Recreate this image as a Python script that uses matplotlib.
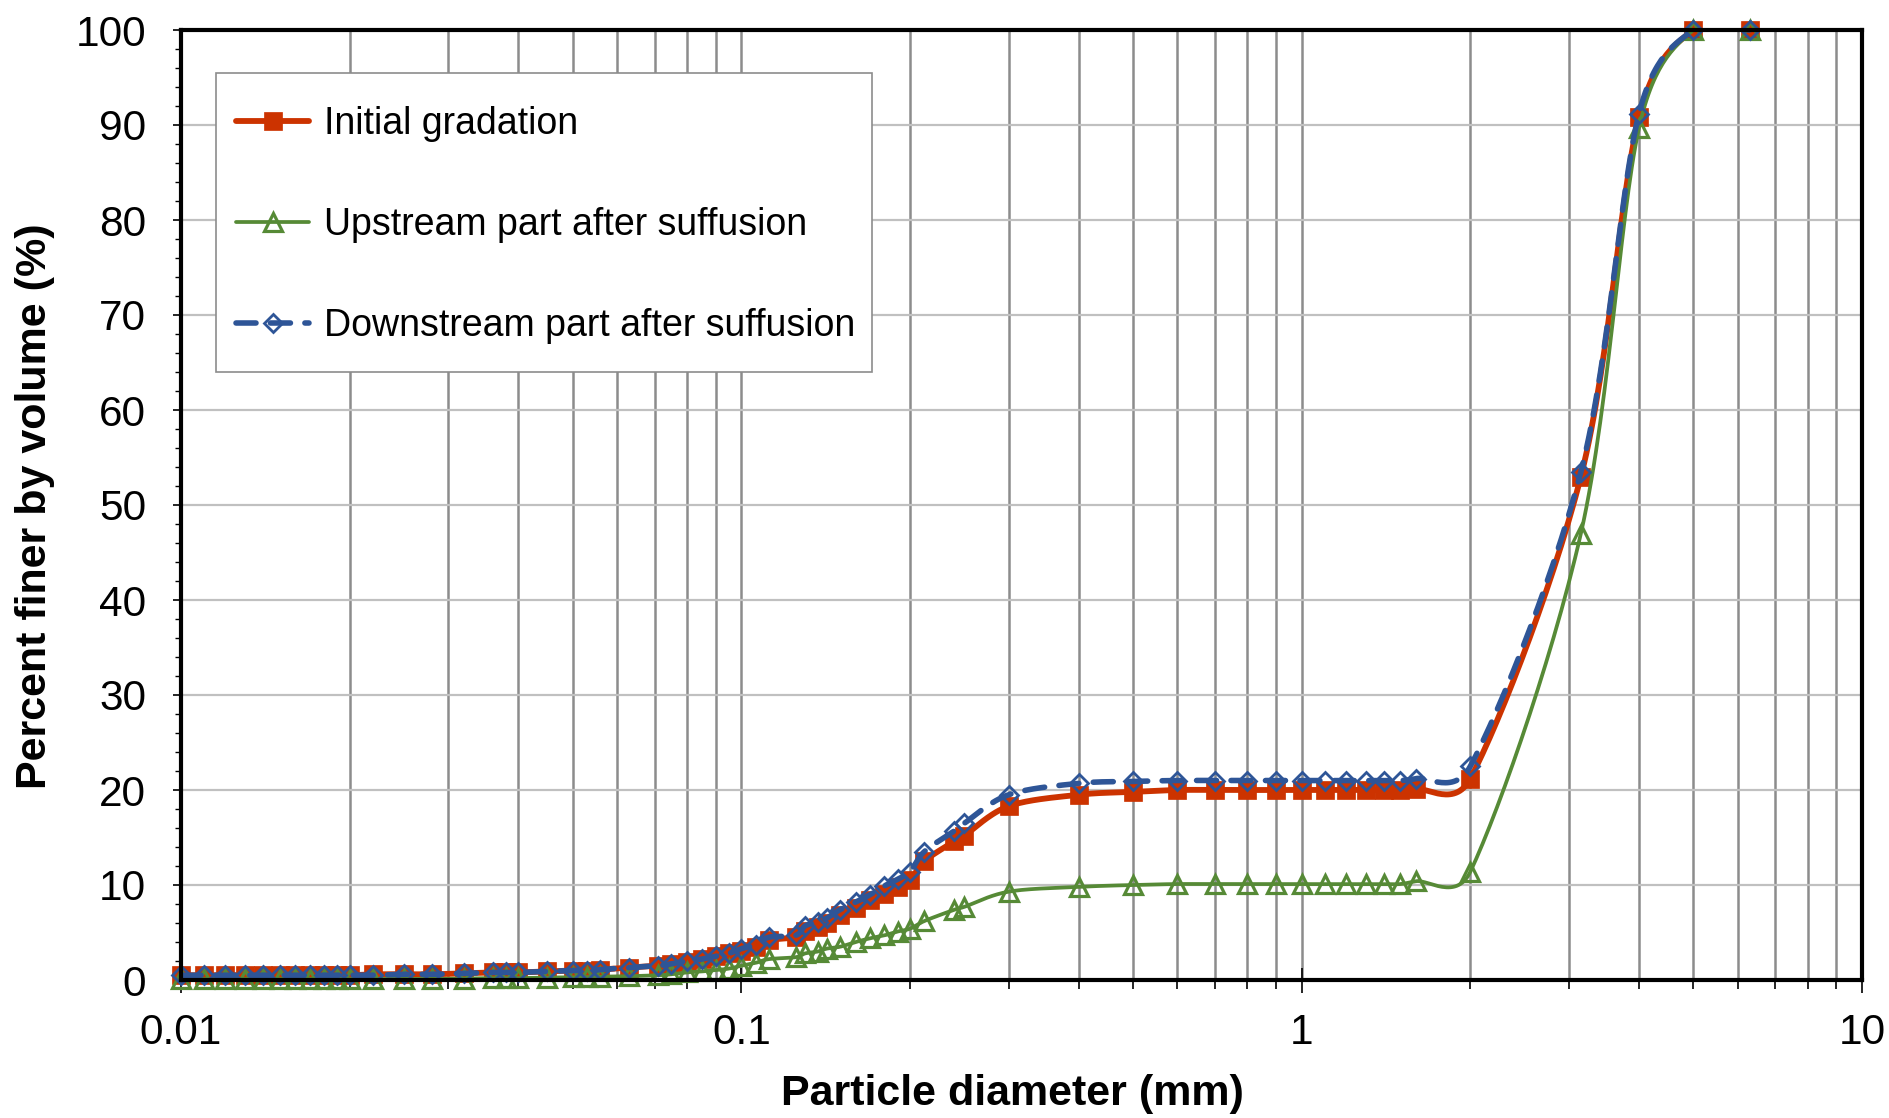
import numpy as np
import matplotlib
matplotlib.use("Agg")
import matplotlib.pyplot as plt
from matplotlib.lines import Line2D
from matplotlib.patches import Rectangle
from matplotlib.ticker import FixedLocator, LogLocator, NullFormatter, FuncFormatter

plt.rcParams['font.family'] = ['Liberation Sans', 'DejaVu Sans']

# ---------------- data ----------------
sizes = [0.01, 0.011, 0.012, 0.013, 0.014, 0.015, 0.016, 0.017, 0.018, 0.019, 0.02,
         0.022, 0.025, 0.028, 0.032, 0.036, 0.038, 0.04,
         0.045, 0.05, 0.053, 0.056, 0.063, 0.071, 0.075, 0.08, 0.085, 0.09, 0.095, 0.1,
         0.106, 0.112, 0.125, 0.13, 0.137, 0.142, 0.15, 0.16, 0.17, 0.18, 0.19, 0.2,
         0.212, 0.24, 0.25, 0.3, 0.4,
         0.5, 0.6, 0.7, 0.8, 0.9, 1.0, 1.1, 1.2, 1.3, 1.4, 1.5, 1.6,
         2.0, 3.15, 4.0, 5.0, 6.3]

initial = [0.5, 0.5, 0.5, 0.5, 0.5, 0.5, 0.5, 0.5, 0.5, 0.5, 0.5,
           0.6, 0.6, 0.6, 0.7, 0.8, 0.8, 0.8,
           0.9, 1.0, 1.0, 1.1, 1.3, 1.5, 1.7, 1.9, 2.2, 2.5, 2.8, 3.1,
           3.5, 4.2, 4.5, 5.2, 5.6, 6.0, 6.8, 7.6, 8.4, 9.1, 9.8, 10.5,
           12.5, 14.6, 15.2, 18.3, 19.5,
           19.8, 20.0, 20.0, 20.0, 20.0, 20.0, 20.0, 20.0, 20.0, 20.0, 20.0, 20.1,
           21.2, 53.0, 90.8, 100, 100]

upstream = [0.1, 0.1, 0.1, 0.1, 0.1, 0.1, 0.1, 0.1, 0.1, 0.1, 0.1,
            0.1, 0.1, 0.1, 0.15, 0.2, 0.2, 0.2,
            0.25, 0.3, 0.3, 0.35, 0.4, 0.5, 0.6, 0.8, 0.9, 1.05, 1.2, 1.5,
            1.8, 2.2, 2.4, 2.8, 3.0, 3.3, 3.5, 4.0, 4.4, 4.7, 5.1, 5.4,
            6.2, 7.4, 7.7, 9.3, 9.8,
            10.0, 10.1, 10.1, 10.1, 10.1, 10.1, 10.1, 10.1, 10.1, 10.1, 10.1, 10.4,
            11.4, 47.0, 89.7, 100, 100]

downstream = [0.5, 0.5, 0.5, 0.5, 0.5, 0.5, 0.5, 0.5, 0.5, 0.5, 0.5,
              0.5, 0.6, 0.6, 0.7, 0.8, 0.8, 0.8,
              0.9, 1.0, 1.0, 1.1, 1.3, 1.5, 1.7, 2.0, 2.2, 2.5, 2.8, 3.3,
              3.7, 4.5, 4.7, 5.7, 6.1, 6.5, 7.4, 8.2, 9.0, 9.9, 10.6, 11.4,
              13.5, 15.7, 16.5, 19.5, 20.7,
              20.9, 21.0, 21.0, 21.0, 21.0, 21.0, 21.0, 21.0, 21.0, 21.0, 21.0, 21.2,
              22.5, 53.5, 91.2, 100, 100]

labels = ["Initial gradation", "Upstream part after suffusion", "Downstream part after suffusion"]
x_ticks = [0.01, 0.1, 1, 10]
y_ticks = list(range(0, 101, 10))

RED = '#CC3300'
GREEN = '#568A36'
BLUE = '#2E5597'


def excel_smooth(x, y, n=30, cap=0.6):
    """Excel-like smoothed line (Bezier through the points), computed in display-like space."""
    u = np.log10(np.asarray(x, float)) * 560.3
    v = np.asarray(y, float) * 9.49
    P = np.column_stack([u, v])
    m = len(P)
    T = np.zeros_like(P)
    for i in range(m):
        a = P[i - 1] if i > 0 else P[i]
        b = P[i + 1] if i < m - 1 else P[i]
        T[i] = (b - a) / 6.0

    def capped(vec, L):
        nv = np.hypot(*vec)
        if nv > cap * L and nv > 0:
            return vec * (cap * L / nv)
        return vec

    out = [P[0]]
    t = np.linspace(0, 1, n + 1)[1:][:, None]
    for i in range(m - 1):
        p1, p2 = P[i], P[i + 1]
        L = np.hypot(*(p2 - p1))
        c1 = p1 + capped(T[i], L)
        c2 = p2 - capped(T[i + 1], L)
        seg = ((1 - t) ** 3) * p1 + 3 * ((1 - t) ** 2) * t * c1 + 3 * (1 - t) * t ** 2 * c2 + t ** 3 * p2
        out.extend(seg)
    out = np.array(out)
    return 10 ** (out[:, 0] / 560.3), out[:, 1] / 9.49


W, H = 1890, 1118
fig = plt.figure(figsize=(W / 100, H / 100), dpi=100)
L, R, T, B = 181, 1862, 30, 980
ax = fig.add_axes([L / W, 1 - B / H, (R - L) / W, (B - T) / H])

ax.set_xscale('log')
ax.set_xlim(0.01, 10)
ax.set_ylim(0, 100)

ax.xaxis.set_major_locator(FixedLocator(x_ticks))
ax.xaxis.set_minor_locator(LogLocator(base=10, subs=np.arange(2, 10)))
ax.xaxis.set_minor_formatter(NullFormatter())
ax.xaxis.set_major_formatter(FuncFormatter(lambda v, p: ('%g' % v)))
ax.yaxis.set_major_locator(FixedLocator(y_ticks))
ax.yaxis.set_minor_locator(FixedLocator(list(range(0, 101, 2))))

ax.grid(True, which='both', axis='x', color='#8C8C8C', linewidth=1.8, zorder=0)
ax.grid(True, which='major', axis='y', color='#C0C0C0', linewidth=1.6, zorder=0)
ax.set_axisbelow(True)

for s in ax.spines.values():
    s.set_linewidth(3.0)
    s.set_color('black')
    s.set_zorder(10)

ax.tick_params(axis='x', which='major', direction='inout', length=18, width=1.2, pad=15, labelsize=30.5)
ax.tick_params(axis='x', which='minor', direction='out', length=6.5, width=1.2)
ax.tick_params(axis='y', which='major', direction='out', length=6, width=1.2, pad=19, labelsize=30.5)
ax.tick_params(axis='y', which='minor', direction='out', length=4.5, width=1.0)

series = [
    (initial, RED, dict(marker='s', markersize=13, markerfacecolor=RED, markeredgecolor=RED, markeredgewidth=0.5),
     dict(linewidth=4.2, linestyle='-')),
    (upstream, GREEN, dict(marker='^', markersize=13.5, markerfacecolor='none', markeredgecolor=GREEN, markeredgewidth=2.3),
     dict(linewidth=2.7, linestyle='-')),
    (downstream, BLUE, dict(marker='D', markersize=9.5, markerfacecolor='none', markeredgecolor=BLUE, markeredgewidth=2.0),
     dict(linewidth=4.0, linestyle=(0, (3.6, 2.6)))),
]

handles = []
z = 3
for (vals, col, mk, ln), lab in zip(series, labels):
    sx, sy = excel_smooth(sizes, vals)
    ax.plot(sx, sy, color=col, solid_capstyle='round', dash_capstyle='round', zorder=z, **ln)
    ax.plot(sizes, vals, linestyle='none', zorder=z + 0.5, clip_on=False, **mk)
    handles.append(Line2D([], [], color=col, solid_capstyle='round', dash_capstyle='round', **ln, **mk))
    z += 1

# legend frame (drawn as a rectangle) and legend entries
fig.patches.append(Rectangle((216 / W, 1 - 372 / H), (872 - 216) / W, (372 - 73) / H,
                             transform=fig.transFigure, facecolor='white', edgecolor='#8C8C8C',
                             linewidth=1.2, zorder=20))
leg = fig.legend(handles, labels, loc='upper left', bbox_to_anchor=(236 / W, 1 - 106 / H),
                 fontsize=27, frameon=False, handlelength=1.95, handletextpad=0.4,
                 labelspacing=1.74, borderpad=0.0, borderaxespad=0.0, numpoints=1)
leg.set_zorder(21)

fig.text(1012 / W, 1 - 1094 / H, 'Particle diameter (mm)', fontsize=31, fontweight='bold',
         ha='center', va='center')
fig.text(35 / W, 1 - 506 / H, 'Percent finer by volume (%)', fontsize=31, fontweight='bold',
         ha='center', va='center', rotation=90)

fig.savefig('out.png', dpi=100)
